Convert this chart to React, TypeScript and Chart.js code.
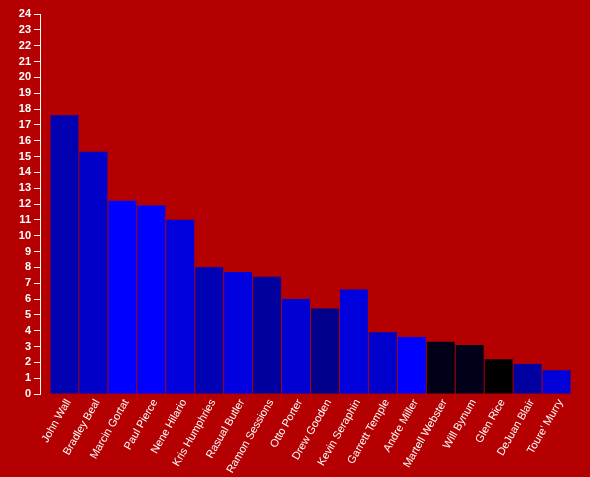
import React, { useEffect, useRef } from "react";
import { Chart, registerables } from "chart.js";

Chart.register(...registerables);

const players = [
  "John Wall", "Bradley Beal", "Marcin Gortat", "Paul Pierce", "Nene Hilario",
  "Kris Humphries", "Rasual Butler", "Ramon Sessions", "Otto Porter", "Drew Gooden",
  "Kevin Seraphin", "Garrett Temple", "Andre Miller", "Martell Webster", "Will Bynum",
  "Glen Rice", "DeJuan Blair", "Toure' Murry",
];
const points = [17.6, 15.3, 12.2, 11.9, 11.0, 8.0, 7.7, 7.4, 6.0, 5.4, 6.6, 3.9, 3.6, 3.3, 3.1, 2.2, 1.9, 1.5];
const barColors = [
  "#0000b0", "#0000c8", "#0000ff", "#0000ff", "#0000dd", "#0000b4", "#0000e0", "#00009f", "#0000d2",
  "#00008c", "#0000dc", "#0000cc", "#0000ff", "#000018", "#00001a", "#000000", "#0000a0", "#0000d8",
];
const yMax = 24;

export default function App() {
  const ref = useRef<HTMLCanvasElement>(null);
  useEffect(() => {
    document.body.style.margin = "0";
    document.body.style.background = "#b40000";
    const chart = new Chart(ref.current!, {
      type: "bar",
      data: {
        labels: players,
        datasets: [{ data: points, backgroundColor: barColors, borderWidth: 0, categoryPercentage: 1, barPercentage: 0.966 }],
      },
      options: {
        animation: false,
        responsive: false,
        layout: { padding: { top: 14, right: 19, bottom: 0, left: 0 } },
        plugins: { legend: { display: false }, tooltip: { enabled: false } },
        scales: {
          x: {
            grid: { display: false },
            border: { display: false },
            ticks: {
              color: "#ffffff",
              font: { family: "Liberation Sans", size: 11 },
              minRotation: 60,
              maxRotation: 60,
              autoSkip: false,
              padding: -5,
              labelOffset: 4,
            },
            afterFit: (s: any) => { s.height = 83; },
          },
          y: {
            position: "left",
            weight: 2,
            min: 0,
            max: yMax,
            ticks: {
              stepSize: 1,
              autoSkip: false,
              color: "#ffffff",
              font: { family: "Liberation Sans", size: 11, weight: "bold" },
              padding: 3,
            },
            grid: { drawOnChartArea: false, color: "#ffffff", tickLength: 6, lineWidth: 1 },
            border: { display: true, color: "#ffffff", width: 1 },
            afterFit: (s: any) => { s.width = 40; },
          },
          gap: {
            type: "linear",
            position: "left",
            weight: 1,
            display: true,
            ticks: { display: false },
            grid: { display: false },
            border: { display: false },
            afterFit: (s: any) => { s.width = 10; },
          },
        },
      } as any,
    });
    return () => chart.destroy();
  }, []);
  return (
    <div style={{ width: 590, height: 477, background: "#b40000" }}>
      <canvas ref={ref} width={590} height={477} style={{ display: "block" }} />
    </div>
  );
}
